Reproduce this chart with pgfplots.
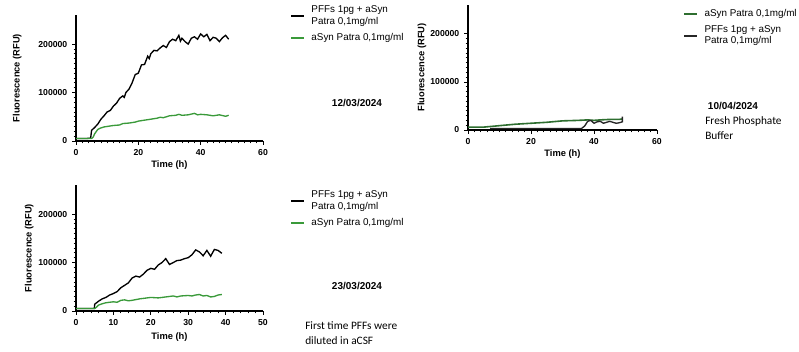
\documentclass[border=0pt]{standalone}
\usepackage{pgfplots}
\pgfplotsset{compat=1.18}
\usepackage{fontspec}
\setmainfont{Liberation Sans}
\newfontfamily\notefont{Carlito}
\definecolor{lgreen}{HTML}{3A9A3A}
\definecolor{dgreen}{HTML}{2E6E30}
\pgfplotsset{
 myax/.style={
  scale only axis, axis lines=left, axis line style={-, line width=0.9pt},
  tick style={line width=0.6pt, black}, tick align=outside,
  major tick length=3pt, minor tick length=1.8pt,
  ymin=0, ymax=260000, ytick={0,100000,200000}, minor y tick num=9,
  scaled y ticks=false, scaled x ticks=false, xmin=0,
  /pgf/number format/assume math mode=true,
  /pgf/number format/fixed,
  /pgf/number format/1000 sep={},
  tick label style={font=\bfseries\fontsize{6.5}{7}\selectfont},
  label style={font=\bfseries\fontsize{7}{8}\selectfont},
  xlabel={Time (h)}, ylabel={Fluorescence (RFU)},
  legend cell align=left,
  legend style={draw=none, fill=none, font=\fontsize{7.4}{8.4}\selectfont, anchor=north west, row sep=1.5pt, nodes={align=left}, inner sep=0pt},
  legend image code/.code={\draw[#1, line width=1.3pt] (0cm,0cm) -- (0.33cm,0cm); \path (0.45cm,0cm);},
 }
}
\begin{document}
\begin{tikzpicture}[x=0.75pt,y=0.75pt]
\useasboundingbox (0,0) rectangle (799,352);
% Panel 1
\begin{axis}[myax, at={(57pt,158.25pt)}, anchor=south west, width=140.25pt, height=94.5pt,
  xmax=60, xtick={0,20,40,60}, minor x tick num=9,
  xlabel style={at={(axis description cs:0.5,-0.19)}, anchor=center},
  ylabel style={at={(axis description cs:-0.315,0.5)}, anchor=center},
  legend style={at={(axis description cs:1.144,1.094)}}]
\addplot[black, line width=1pt] coordinates {(0,5000)(1,5000)(2,5000)(3,5000)(4,5500)(4.7,6000)(5,22000)(6,28000)(7,35000)(8,45000)(9,52000)(10,60000)(11,63000)(12,72000)(13,78000)(14,88000)(15,93000)(15.5,90000)(16,100000)(17,107000)(18,120000)(19,137000)(20,140000)(21,157000)(22,158000)(23,175000)(23.5,170000)(24,180000)(25,187000)(26,186000)(27,192000)(28,197000)(29,193000)(30,205000)(31,210000)(32,207000)(33,218000)(33.5,206000)(34,212000)(35,205000)(36,200000)(37,212000)(38,215000)(39,210000)(40,221000)(41,215000)(42,220000)(43,207000)(44,214000)(45,212000)(46,205000)(47,213000)(48,218000)(49,210000)};
\addlegendentry{PFFs 1pg + aSyn\\Patra 0,1mg/ml}
\addplot[lgreen, line width=1pt] coordinates {(0,5000)(5,5000)(5.5,8000)(6,15000)(7,24000)(8,27000)(9,29000)(10,30000)(12,32000)(14,33000)(15,36000)(17,37000)(19,39000)(20,41000)(22,43000)(24,45000)(26,47000)(27,49000)(28,48000)(30,52000)(32,53000)(33,55000)(34,53000)(36,54000)(38,57000)(39,54000)(40,55000)(42,54000)(44,52000)(46,54000)(48,51000)(49,53000)};
\addlegendentry{aSyn Patra 0,1mg/ml}
\end{axis}
% Panel 2
\begin{axis}[myax, at={(351pt,166.5pt)}, anchor=south west, width=141.75pt, height=93.75pt,
  xmax=60, xtick={0,20,40,60}, minor x tick num=9,
  xlabel style={at={(axis description cs:0.5,-0.19)}, anchor=center},
  ylabel style={at={(axis description cs:-0.243,0.5)}, anchor=center},
  legend style={at={(axis description cs:1.137,0.99)}}]
\addplot[dgreen, line width=1.2pt] coordinates {(0,6000)(5,6000)(10,9000)(15,12000)(20,14000)(25,16000)(30,19000)(35,20000)(38,21000)(40,20000)(42,21000)(45,22000)(48,22000)(49,23000)};
\addlegendentry{aSyn Patra 0,1mg/ml}
\addplot[black!85, line width=1pt] coordinates {(7,3000)(15,3000)(25,3000)(36,3000)(37,8000)(38,18000)(39,20000)(40,14000)(41,17000)(42,18000)(43,14000)(44,16000)(45,18000)(46,16000)(47,14000)(48,15000)(49,17000)(49,28000)};
\addlegendentry{PFFs 1pg + aSyn\\Patra 0,1mg/ml}
\end{axis}
% Panel 3
\begin{axis}[myax, at={(57pt,30.75pt)}, anchor=south west, width=140.25pt, height=94.5pt,
  xmax=50, xtick={0,10,20,30,40,50}, minor x tick num=4,
  xlabel style={at={(axis description cs:0.5,-0.206)}, anchor=center},
  ylabel style={at={(axis description cs:-0.25,0.5)}, anchor=center},
  legend style={at={(axis description cs:1.144,0.976)}}]
\addplot[black, line width=1pt] coordinates {(0,5000)(4.9,5000)(5,14000)(6,20000)(7,25000)(8,28000)(9,33000)(10,36000)(11,40000)(12,48000)(13,53000)(14,58000)(15,68000)(16,72000)(17,70000)(18,76000)(19,84000)(20,88000)(21,86000)(22,95000)(23,100000)(24,108000)(25,96000)(26,100000)(27,104000)(28,105000)(29,108000)(30,110000)(31,116000)(32,126000)(33,122000)(34,114000)(35,125000)(36,113000)(37,127000)(38,125000)(39,119000)};
\addlegendentry{PFFs 1pg + aSyn\\Patra 0,1mg/ml}
\addplot[lgreen, line width=1pt] coordinates {(0,5000)(5,5000)(5.5,8000)(6,12000)(7,15000)(8,17000)(10,19000)(11,18000)(12,22000)(13,23000)(14,21000)(15,22000)(17,25000)(19,27000)(20,28000)(22,27000)(24,29000)(26,31000)(27,29000)(28,31000)(30,32000)(31,31000)(32,33000)(33,34000)(34,31000)(35,32000)(36,29000)(37,30000)(38,33000)(39,34000)};
\addlegendentry{aSyn Patra 0,1mg/ml}
\end{axis}
\node[font=\bfseries\fontsize{7.5}{9}\selectfont] at (357,249) {12/03/2024};
\node[font=\bfseries\fontsize{7.5}{9}\selectfont] at (357,66) {23/03/2024};
\node[font=\bfseries\fontsize{7.5}{9}\selectfont] at (733,246) {10/04/2024};
\node[anchor=north west, align=left, inner sep=0pt, font=\notefont\fontsize{8.5}{11.25}\selectfont] at (705,236) {Fresh Phosphate\\Buffer};
\node[anchor=north west, align=left, inner sep=0pt, font=\notefont\fontsize{8.5}{11.25}\selectfont] at (305,31) {First time PFFs were\\diluted in aCSF};
\end{tikzpicture}
\end{document}
